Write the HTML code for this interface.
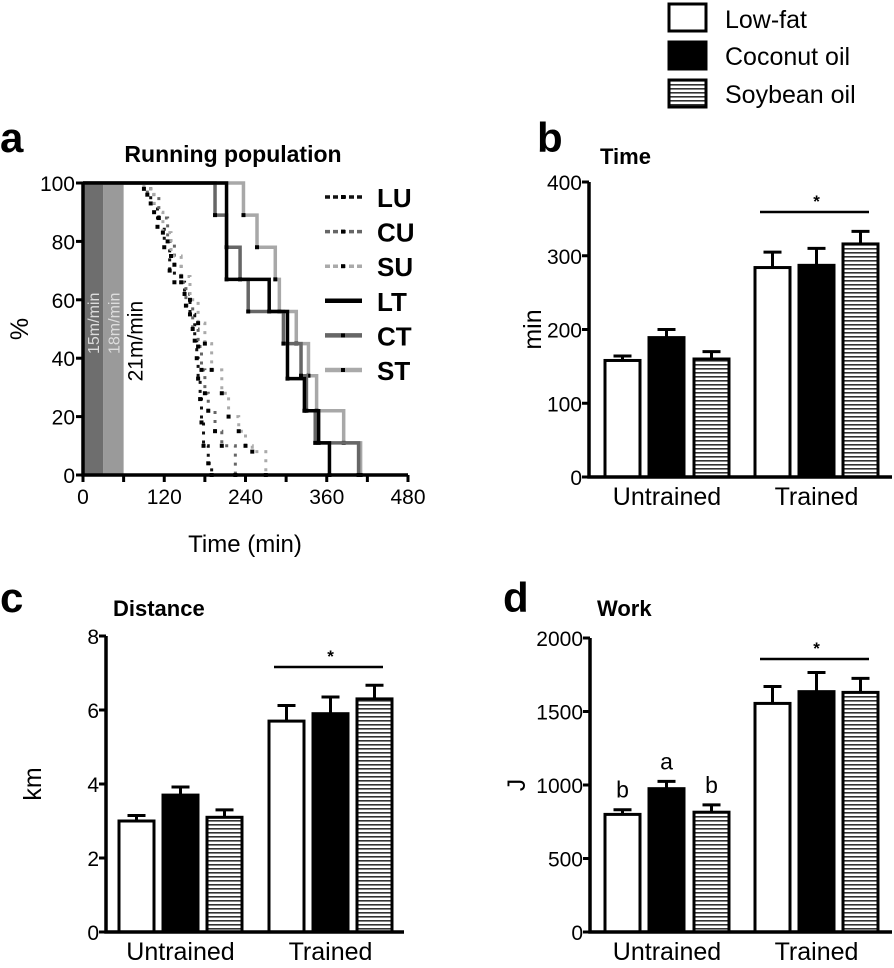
<!DOCTYPE html>
<html><head><meta charset="utf-8">
<style>
html,body{margin:0;padding:0;background:#fff;}
svg{display:block;font-family:"Liberation Sans",Arial,sans-serif;}
</style></head>
<body>
<svg id="fig" width="894" height="968" viewBox="0 0 894 968" xmlns="http://www.w3.org/2000/svg">
<defs>
<pattern id="hatch" patternUnits="userSpaceOnUse" width="8" height="4">
<rect width="8" height="4" fill="#fff"/>
<rect y="0" width="8" height="1.6" fill="#333"/>
</pattern>
</defs>
<g id="legend">
<rect x="669" y="4" width="37" height="27" fill="#fff" stroke="#000" stroke-width="3"/>
<text x="725" y="28" font-size="25">Low-fat</text>
<rect x="669" y="42" width="37" height="27" fill="#000" stroke="#000" stroke-width="3"/>
<text x="725" y="65" font-size="25">Coconut oil</text>
<rect x="669" y="80" width="37" height="27" fill="url(#hatch)" stroke="#000" stroke-width="3"/>
<text x="725" y="103" font-size="25">Soybean oil</text>
</g>
<g id="pa"></g>
<g id="pb"></g>
<g id="pc"></g>
<g id="pd"></g>
</svg>
<script>
// ---------- Panel a data ----------
const aXTicks = [0,120,240,360,480];
const aYTicks = [0,20,40,60,80,100];
const LT_t = [212,275,302,327,348,364];
const LT_p = [67,56,33,22,11,0];
const CT_t = [195,212,232,244,296,322,330,343,407];
const CT_p = [89,78,67,56,45,34,22,11,0];
const ST_t = [237,257,284,290,315,333,345,385,410];
const ST_p = [89,78,67,56,45,34,22,11,0];
const LU_t = [100,110,120,128,135,150,158,165,168,170,173,175,178,185,190];
const LU_p = [93,85,78,70,66,62,55,46,40,33,26,18,10,4,0];
const CU_t = [95,112,125,135,145,152,162,170,175,180,185,195,205,225];
const CU_p = [96,88,80,72,66,58,50,44,36,28,22,15,10,0];
const SU_t = [90,105,118,130,145,158,170,180,190,205,215,230,240,250,270];
const SU_p = [98,90,83,75,68,60,52,45,36,28,20,15,10,8,0];
const aSeriesNames = ["LU","CU","SU","LT","CT","ST"];

// ---------- Bar panels data ----------
const groups = ["Untrained","Trained"];
const diets = ["Low-fat","Coconut oil","Soybean oil"];
const timeMean = [158,189,160,284,287,316];
const timeErr = [6,11,10,21,23,17];
const timeTicks = [0,100,200,300,400];
const distMean = [3.0,3.7,3.1,5.7,5.9,6.3];
const distErr = [0.15,0.22,0.2,0.42,0.45,0.37];
const distTicks = [0,2,4,6,8];
const workMean = [800,975,815,1555,1635,1630];
const workErr = [32,50,50,115,130,95];
const workTicks = [0,500,1000,1500,2000];
const workLetters = ["b","a","b"];

const NS="http://www.w3.org/2000/svg";
function el(parent,tag,attrs,text){
  const e=document.createElementNS(NS,tag);
  for(const k in attrs) e.setAttribute(k,attrs[k]);
  if(text!==undefined) e.textContent=text;
  parent.appendChild(e);
  return e;
}

// ---------- Panel a ----------
(function(){
  const g=document.getElementById('pa');
  const x0=83,x1=408,y0=475,y1=183;
  const xA=t=>x0+(x1-x0)*t/480;
  const yA=p=>y0-(y0-y1)*p/100;
  let t;
  t=el(g,'text',{x:0,y:152,'font-size':42,'font-weight':'bold'},'a');
  
  
  t=el(g,'text',{x:233,y:162,'font-size':23,'font-weight':'bold','text-anchor':'middle'},'Running population');
  
  
  let r=el(g,'rect',{x:xA(0),y:yA(100),width:xA(30)-xA(0),height:yA(0)-yA(100),fill:'#6e6e6e'});
  
  
  r=el(g,'rect',{x:xA(30),y:yA(100),width:xA(60)-xA(30),height:yA(0)-yA(100),fill:'#9a9a9a'});
  
  
  t=el(g,'text',{x:0,y:0,'font-size':16,fill:'#ddd',transform:`translate(${xA(15)+6},${yA(50)+25}) rotate(-90)`},'15m/min');
  
  
  t=el(g,'text',{x:0,y:0,'font-size':16,fill:'#ddd',transform:`translate(${xA(45)+6},${yA(50)+25}) rotate(-90)`},'18m/min');
  
  
  t=el(g,'text',{x:0,y:0,'font-size':21,fill:'#000',transform:`translate(${xA(88)},${yA(30)-6}) rotate(-90)`},'21m/min');
  
  

  const series=[
    {n:'LU',t:LU_t,p:LU_p,c:'#111',d:'3,6',w:3},
    {n:'CU',t:CU_t,p:CU_p,c:'#666',d:'3,6',w:3},
    {n:'SU',t:SU_t,p:SU_p,c:'#aaa',d:'3,6',w:3},
    {n:'ST',t:ST_t,p:ST_p,c:'#a8a8a8',d:'',w:3.5},
    {n:'CT',t:CT_t,p:CT_p,c:'#666',d:'',w:3.5},
    {n:'LT',t:LT_t,p:LT_p,c:'#000',d:'',w:3.5}
  ];
  series.forEach(s=>{
    let d=`M${xA(0)},${yA(100)}`;
    for(let i=0;i<s.t.length;i++){d+=` H${xA(s.t[i])} V${yA(s.p[i])}`;}
    const p=el(g,'path',{d:d,fill:'none',stroke:s.c,'stroke-width':s.w,'stroke-dasharray':s.d});
    
    
    for(let i=0;i<s.t.length;i++){
      const m=el(g,'rect',{x:xA(s.t[i])-2,y:yA(s.p[i])-2,width:4,height:4,fill:'#000'});
      
      
    }
  });
  let ax=el(g,'path',{d:`M${x0},${y1} V${y0} H${x1}`,fill:'none',stroke:'#000','stroke-width':3.5});
  
  
  aYTicks.forEach(v=>{
    el(g,'line',{x1:x0-7,x2:x0,y1:yA(v),y2:yA(v),stroke:'#000','stroke-width':3});
    const tt=el(g,'text',{x:x0-8,y:yA(v)+8,'font-size':21,'text-anchor':'end'},v);
    
    
  });
  for(let v=0;v<=480;v+=60){el(g,'line',{x1:xA(v),x2:xA(v),y1:y0,y2:y0+7,stroke:'#000','stroke-width':3});}
  aXTicks.forEach(v=>{
    const tt=el(g,'text',{x:xA(v),y:y0+29,'font-size':21,'text-anchor':'middle'},v);
    
    
  });
  t=el(g,'text',{x:245,y:552,'font-size':24,'text-anchor':'middle'},'Time (min)');
  
  
  t=el(g,'text',{x:0,y:0,'font-size':25,'text-anchor':'middle',transform:`translate(28,${yA(50)}) rotate(-90)`},'%');
  
  
  const lg=[{n:'LU',c:'#111',d:'5,3'},{n:'CU',c:'#666',d:'5,3'},{n:'SU',c:'#aaa',d:'5,3'},{n:'LT',c:'#000',d:''},{n:'CT',c:'#666',d:''},{n:'ST',c:'#aaa',d:''}];
  lg.forEach((s,i)=>{
    const y=197+i*34.6;
    const l=el(g,'line',{x1:325,x2:362,y1:y,y2:y,stroke:s.c,'stroke-width':s.d?3.5:4.5,'stroke-dasharray':s.d});
    
    
    el(g,'rect',{x:341,y:y-2,width:4,height:4,fill:'#000'});
    const tt=el(g,'text',{x:377,y:y+10,'font-size':26,'font-weight':'bold'},aSeriesNames[i]);
    
    
  });
})();

// ---------- Bar panels ----------
function barPanel(id,cfg){
  const g=document.getElementById(id);
  const yS=v=>cfg.y0-(cfg.y0-cfg.y1)*v/cfg.max;
  let t=el(g,'text',{x:cfg.lx,y:cfg.ly,'font-size':42,'font-weight':'bold'},cfg.letter);
  
  
  t=el(g,'text',{x:cfg.tx,y:cfg.ty,'font-size':22,'font-weight':'bold'},cfg.title);
  
  
  const fills=['#fff','#000','url(#hatch)'];
  cfg.mean.forEach((v,i)=>{
    const bx=cfg.bx[i], w=35;
    const top=yS(v), et=yS(v+cfg.err[i]);
    const e=el(g,'path',{d:`M${bx+w/2},${top} V${et} M${bx+w/2-9},${et} H${bx+w/2+9}`,stroke:'#000','stroke-width':3,fill:'none'});
    
    
    const r=el(g,'rect',{x:bx,y:top,width:w,height:cfg.y0-top,fill:fills[i%3],stroke:'#000','stroke-width':3});
    
    
    if(cfg.letters && i<3){
      const lt=el(g,'text',{x:bx+w/2,y:et-12,'font-size':23,'text-anchor':'middle'},cfg.letters[i]);
      
      
    }
  });
  const ax=el(g,'path',{d:`M${cfg.x0},${cfg.y1} V${cfg.y0} H${cfg.xe}`,fill:'none',stroke:'#000','stroke-width':3.5});
  
  
  cfg.ticks.forEach(v=>{
    el(g,'line',{x1:cfg.x0-7,x2:cfg.x0,y1:yS(v),y2:yS(v),stroke:'#000','stroke-width':3});
    const tt=el(g,'text',{x:cfg.x0-7,y:yS(v)+8,'font-size':21,'text-anchor':'end'},v);
    
    
  });
  groups.forEach((gn,j)=>{
    const cx=(cfg.bx[j*3]+cfg.bx[j*3+2]+35)/2;
    const tt=el(g,'text',{x:cx,y:cfg.y0+28,'font-size':25,'text-anchor':'middle'},gn);
    
    
  });
  const sy=cfg.sigY;
  const sl=el(g,'line',{x1:cfg.bx[3]+5,x2:cfg.bx[5]+26,y1:sy,y2:sy,stroke:'#000','stroke-width':2.5});
  
  
  const st=el(g,'text',{x:(cfg.bx[3]+cfg.bx[5]+35)/2,y:sy-5,'font-size':17,'font-weight':'bold','text-anchor':'middle'},'*');
  
  
  const yt=el(g,'text',{x:0,y:0,'font-size':25,'text-anchor':'middle',transform:`translate(${cfg.ylx},${(cfg.y0+cfg.y1)/2}) rotate(-90)`},cfg.ylab);
  
  
}
const bxRight=[605,649,694,755,799,843];
const bxLeft=[119,163,207,269,313,357];
barPanel('pb',{letter:'b',lx:537,ly:152,title:'Time',tx:600,ty:164,x0:589,xe:892,y0:477,y1:182,max:400,ticks:timeTicks,mean:timeMean,err:timeErr,bx:bxRight,sigY:212,ylx:541,ylab:'min'});
barPanel('pc',{letter:'c',lx:0,ly:612,title:'Distance',tx:113,ty:616,x0:106,xe:404,y0:932,y1:636,max:8,ticks:distTicks,mean:distMean,err:distErr,bx:bxLeft,sigY:667,ylx:41,ylab:'km'});
barPanel('pd',{letter:'d',lx:503,ly:612,title:'Work',tx:597,ty:616,x0:590,xe:892,y0:932,y1:638,max:2000,ticks:workTicks,mean:workMean,err:workErr,bx:bxRight,sigY:659,ylx:525,ylab:'J',letters:workLetters});
</script>
</body></html>
